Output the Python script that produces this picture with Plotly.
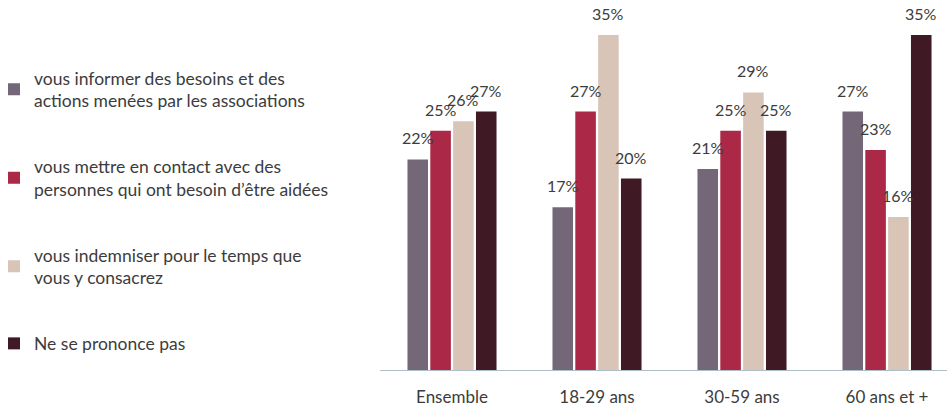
import plotly.graph_objects as go

# Age groups on the x axis
categories = ["Ensemble", "18-29 ans", "30-59 ans", "60 ans et +"]

# Series names (legend entries) and their values in %
series_names = [
    "vous informer des besoins et des<br>actions menées par les associations",
    "vous mettre en contact avec des<br>personnes qui ont besoin d’être aidées",
    "vous indemniser pour le temps que<br>vous y consacrez",
    "Ne se prononce pas",
]
informer = [22, 17, 21, 27]
contact = [25, 27, 25, 23]
indemniser = [26, 35, 29, 16]
ne_se_prononce = [27, 20, 25, 35]

series_values = [informer, contact, indemniser, ne_se_prononce]
colors = ["#746878", "#ab2846", "#d8c5b7", "#3f1a24"]

W, H = 947, 410
font_family = "Lato, 'Open Sans', sans-serif"
text_color = "#3c3c3c"

# plot area geometry (pixels)
plot_left = 379.5
cat_width = 145.0
bargap = 0.37
right_cut = (plot_left + 4 * cat_width - W) / cat_width
slot = cat_width * (1 - bargap) / len(series_values)

fig = go.Figure()
annotations = []
for i, (name, vals, col) in enumerate(zip(series_names, series_values, colors)):
    fig.add_trace(go.Bar(
        x=categories,
        y=vals,
        name=name,
        legendgroup=f"g{i}",
        marker=dict(color=col, line=dict(width=0)),
        cliponaxis=False,
    ))
    # value labels sitting a little above each bar
    for cat, v in zip(categories, vals):
        annotations.append(dict(
            x=cat, y=v, xref="x", yref="y",
            text=f"{v}%",
            showarrow=False,
            xanchor="center", yanchor="bottom",
            xshift=(i - 1.5) * slot,
            yshift=10,
            font=dict(size=16, color=text_color, family=font_family),
        ))

fig.update_layout(
    width=W,
    height=H,
    margin=dict(l=0, r=0, t=0, b=40, autoexpand=False),
    paper_bgcolor="white",
    plot_bgcolor="white",
    barmode="group",
    bargap=bargap,
    bargroupgap=0.1,
    font=dict(family=font_family, color=text_color),
    annotations=annotations,
    xaxis=dict(
        domain=[plot_left / W, 1],
        range=[-0.5, 3.5 - right_cut],
        showline=True,
        linecolor="#aebfca",
        linewidth=1,
        showgrid=False,
        ticks="outside",
        ticklen=12,
        tickcolor="rgba(0,0,0,0)",
        tickfont=dict(size=17, color=text_color, family=font_family),
    ),
    yaxis=dict(
        range=[0, 370 / 9.57],
        visible=False,
        showgrid=False,
        zeroline=False,
    ),
    showlegend=True,
    legend=dict(
        x=-6 / W,
        y=1 - 60 / 370,
        xanchor="left",
        yanchor="top",
        traceorder="grouped",
        tracegroupgap=40,
        font=dict(size=17.5, color=text_color, family=font_family),
        bgcolor="rgba(0,0,0,0)",
        itemwidth=30,
    ),
)

fig.write_html("out.html")
